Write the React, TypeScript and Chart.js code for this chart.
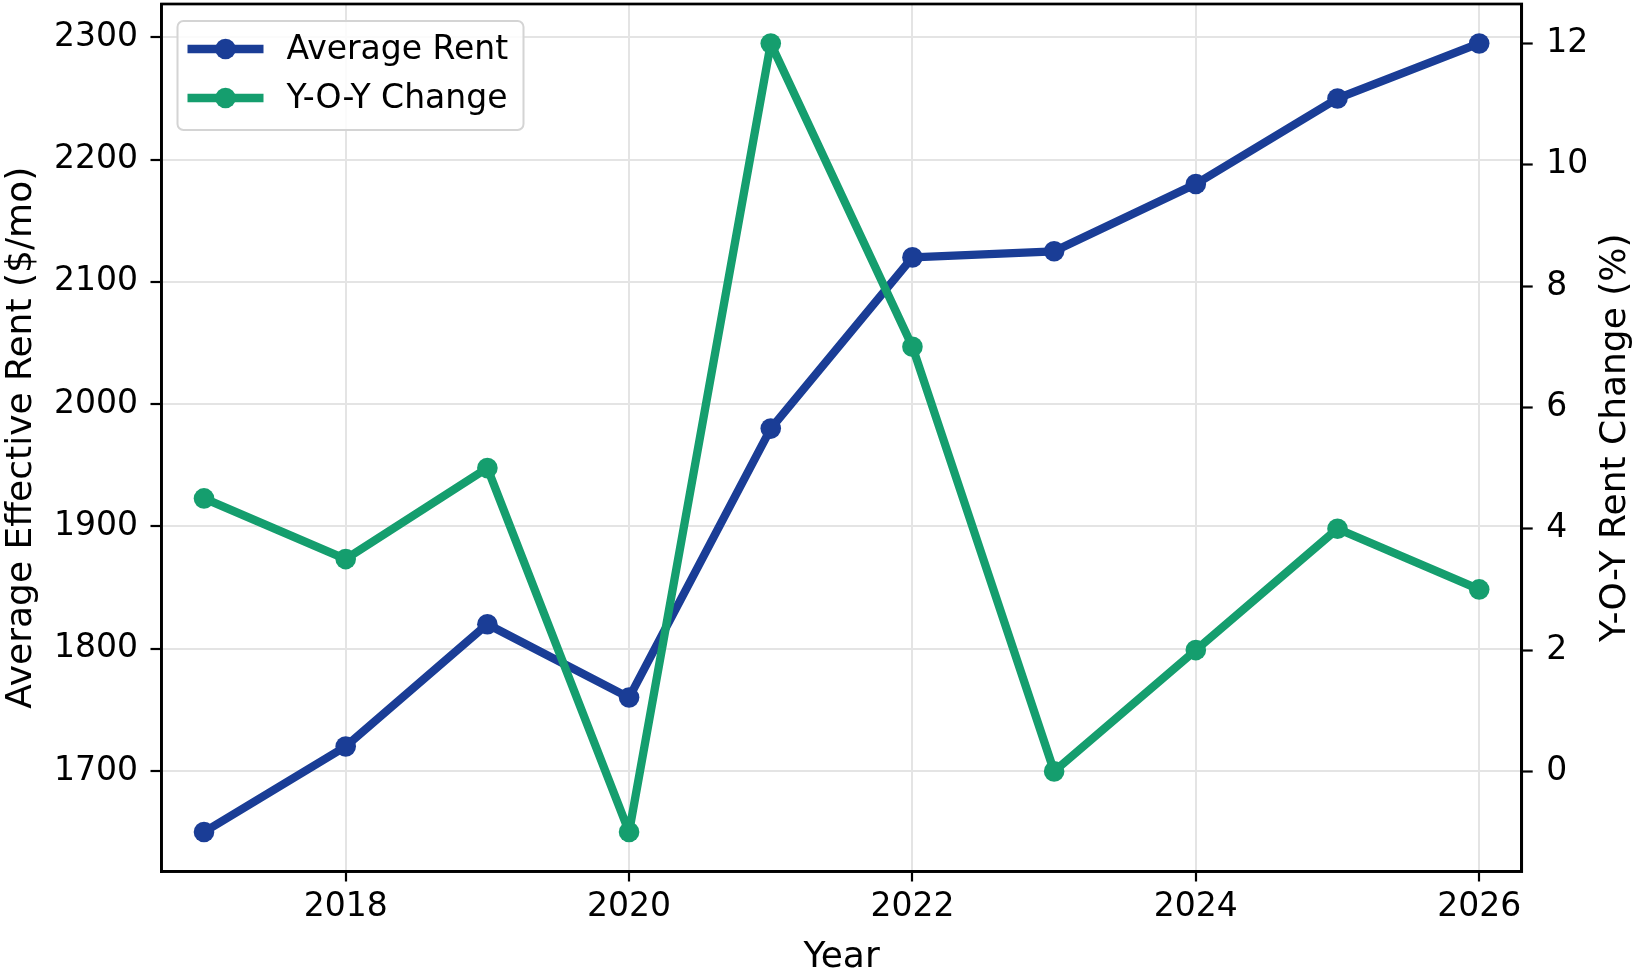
import { useEffect, useRef } from 'react';
import Chart from 'chart.js/auto';

// Average effective rent vs year-over-year change, twin y axes (matplotlib look).
const YEARS = [2017, 2018, 2019, 2020, 2021, 2022, 2023, 2024, 2025, 2026];
const AVG_RENT = [1650, 1720, 1820, 1760, 1980, 2120, 2125, 2180, 2250, 2295];
const YOY_CHANGE = [4.5, 3.5, 5, -1, 12, 7, 0, 2, 4, 3];

const YEAR_TICKS = [2018, 2020, 2022, 2024, 2026];
const RENT_TICKS = [1700, 1800, 1900, 2000, 2100, 2200, 2300];
const CHANGE_TICKS = [0, 2, 4, 6, 8, 10, 12];

const RENT_LABEL = 'Average Rent';
const CHANGE_LABEL = 'Y-O-Y Change';
const LEFT_TITLE = 'Average Effective Rent ($/mo)';
const RIGHT_TITLE = 'Y-O-Y Rent Change (%)';
const X_TITLE = 'Year';

const BLUE = '#1a3d96';
const GREEN = '#159e6e';
const GRID = '#e4e4e4';
const FONT = "'DejaVu Sans', sans-serif";
const TICK_SIZE = 33;
const TITLE_SIZE = 36;

const fixedTicks = (values: number[]) => (axis: any) => {
  axis.ticks = values.map((v) => ({ value: v }));
};

// frame, right-hand title (reads bottom-to-top) and in-plot legend
const extrasPlugin = {
  id: 'extras',
  afterDraw(chart: any) {
    const { ctx, chartArea: a } = chart;
    ctx.save();
    ctx.strokeStyle = '#000';
    ctx.lineWidth = 2.7;
    ctx.strokeRect(a.left, a.top, a.right - a.left, a.bottom - a.top);

    ctx.fillStyle = '#000';
    ctx.font = `${TITLE_SIZE}px ${FONT}`;
    ctx.textAlign = 'center';
    ctx.textBaseline = 'middle';
    ctx.translate(a.right + 94, (a.top + a.bottom) / 2);
    ctx.rotate(-Math.PI / 2);
    ctx.fillText(RIGHT_TITLE, 0, 0);
    ctx.restore();

    const items = [
      { label: RENT_LABEL, color: BLUE },
      { label: CHANGE_LABEL, color: GREEN },
    ];
    const bx = a.left + 16;
    const by = a.top + 17;
    const bw = 346;
    const bh = 109;
    ctx.save();
    ctx.beginPath();
    ctx.roundRect(bx, by, bw, bh, 6);
    ctx.fillStyle = 'rgba(255,255,255,0.85)';
    ctx.fill();
    ctx.strokeStyle = '#d4d4d4';
    ctx.lineWidth = 2;
    ctx.stroke();
    ctx.font = `${TICK_SIZE}px ${FONT}`;
    ctx.textBaseline = 'middle';
    ctx.textAlign = 'left';
    items.forEach((it, i) => {
      const cy = by + 28 + i * 49;
      ctx.strokeStyle = it.color;
      ctx.lineWidth = 8.3;
      ctx.beginPath();
      ctx.moveTo(bx + 10, cy);
      ctx.lineTo(bx + 86, cy);
      ctx.stroke();
      ctx.fillStyle = it.color;
      ctx.beginPath();
      ctx.arc(bx + 48, cy, 10.3, 0, Math.PI * 2);
      ctx.fill();
      ctx.fillStyle = '#000';
      ctx.fillText(it.label, bx + 109, cy + 1);
    });
    ctx.restore();
  },
};

export default function App() {
  const canvasRef = useRef<HTMLCanvasElement | null>(null);

  useEffect(() => {
    const el = canvasRef.current;
    if (!el) return;
    document.body.style.margin = '0';
    const tickFont = { family: FONT, size: TICK_SIZE };
    const titleFont = { family: FONT, size: TITLE_SIZE };
    const lineStyle = (color: string) => ({
      borderColor: color,
      backgroundColor: color,
      pointBackgroundColor: color,
      borderWidth: 8.3,
      borderJoinStyle: 'round' as const,
      pointRadius: 10.3,
      pointBorderWidth: 0,
    });
    const chart = new Chart(el, {
      type: 'line',
      data: {
        datasets: [
          {
            label: RENT_LABEL,
            data: YEARS.map((x, i) => ({ x, y: AVG_RENT[i] })),
            yAxisID: 'y',
            ...lineStyle(BLUE),
            order: 2,
          },
          {
            label: CHANGE_LABEL,
            data: YEARS.map((x, i) => ({ x, y: YOY_CHANGE[i] })),
            yAxisID: 'y1',
            ...lineStyle(GREEN),
            order: 1,
          },
        ],
      },
      options: {
        responsive: true,
        maintainAspectRatio: false,
        animation: false,
        layout: { autoPadding: false, padding: { top: 4, left: 0, right: 0, bottom: 0 } },
        plugins: { legend: { display: false }, tooltip: { enabled: false } },
        scales: {
          x: {
            type: 'linear',
            min: 2016.7,
            max: 2026.3,
            afterBuildTicks: fixedTicks(YEAR_TICKS),
            afterFit: (s: any) => {
              s.height = 108.5;
              s.paddingLeft = 0;
              s.paddingRight = 0;
            },
            grid: { color: GRID, lineWidth: 2, tickLength: 10, tickColor: '#000', tickWidth: 2.2 },
            border: { display: true, color: '#000', width: 2.7 },
            ticks: {
              font: tickFont,
              color: '#000',
              padding: 6,
              maxRotation: 0,
              autoSkip: false,
              callback: (v: any) => String(v),
            },
            title: {
              display: true,
              text: X_TITLE,
              color: '#000',
              font: titleFont,
              padding: { top: 0, bottom: 1 },
            },
          },
          y: {
            type: 'linear',
            position: 'left',
            min: 1617.75,
            max: 2327.25,
            afterBuildTicks: fixedTicks(RENT_TICKS),
            afterFit: (s: any) => {
              s.width = 161.5;
              s.paddingTop = 0;
              s.paddingBottom = 0;
            },
            grid: { color: GRID, lineWidth: 2, tickLength: 11, tickColor: '#000', tickWidth: 2.2 },
            border: { display: true, color: '#000', width: 2.7 },
            ticks: { font: tickFont, color: '#000', padding: 12.5, callback: (v: any) => String(v) },
            title: {
              display: true,
              text: LEFT_TITLE,
              color: '#000',
              font: titleFont,
              padding: { top: 0, bottom: 0 },
            },
          },
          y1: {
            type: 'linear',
            position: 'right',
            min: -1.65,
            max: 12.65,
            afterBuildTicks: fixedTicks(CHANGE_TICKS),
            afterFit: (s: any) => {
              s.width = 118.3;
              s.paddingTop = 0;
              s.paddingBottom = 0;
            },
            grid: {
              drawOnChartArea: false,
              tickLength: 11,
              tickColor: '#000',
              tickWidth: 2.2,
            },
            border: { display: true, color: '#000', width: 2.7 },
            ticks: { font: tickFont, color: '#000', padding: 13.5, callback: (v: any) => String(v) },
            title: { display: false },
          },
        },
      },
      plugins: [extrasPlugin],
    });
    return () => chart.destroy();
  }, []);

  return (
    <div style={{ position: 'relative', width: 1640, height: 980, background: '#fff' }}>
      <canvas ref={canvasRef} />
    </div>
  );
}
